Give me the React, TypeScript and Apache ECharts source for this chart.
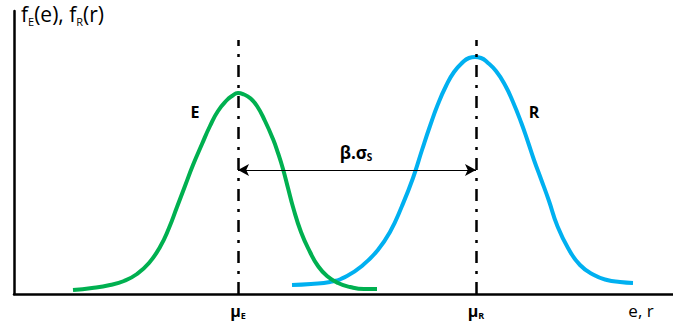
import React, { useEffect, useRef } from "react";
import * as echarts from "echarts";

// Curve E (green)
const eX = [59, 78, 96, 110, 123, 135, 146, 155, 163, 171, 179, 188, 196, 204, 213, 218, 224, 230, 236, 243, 251, 259, 264, 269, 274, 279, 287, 296, 304, 313, 324, 336, 350, 363];
const eY = [4, 6, 9, 13, 20, 31, 47, 66, 87, 108, 129, 150, 168, 183, 194, 198, 201, 199.5, 196, 188, 173, 155, 141, 125, 106, 87, 62, 42, 28, 18, 11, 7, 5, 5];
// Curve R (blue)
const rX = [278, 297, 316, 333, 349, 363, 376, 388, 399, 408, 416, 424, 432, 440, 449, 455, 461, 467, 473, 482, 491, 499, 507, 514, 520, 527, 535, 543, 554, 566, 580, 593, 606, 619];
const rY = [9, 10, 12, 18, 29, 43, 62, 88, 116, 144, 168, 190, 208, 222, 232, 236, 237, 236, 232, 223, 209, 192, 172, 152, 134, 115, 93, 69, 46, 29, 19, 14, 12, 11];

const meanValues = [224, 462];
const meanSubs = ["E", "R"];
const meanLineTop = 254;
const arrowLevel = 124;
const curveNames = ["E", "R"];
const xAxisTitle = "e, r";
const yTitleParts = ["f", "E", "(e), f", "R", "(r)"];
const gapLabel = ["β.σ", "S"];

const FONT = "'Open Sans', sans-serif";

export default function App() {
  const ref = useRef<HTMLDivElement>(null);
  useEffect(() => {
    const chart = echarts.init(ref.current!, null, { renderer: "svg" });
    const eData = eX.map((x, i) => [x, eY[i]]);
    const rData = rX.map((x, i) => [x, rY[i]]);
    const dashStyle = { color: "#000", width: 2.5, type: [12, 8, 3, 8] as any };
    chart.setOption({
      animation: false,
      grid: { left: 14, right: 0, top: 11, bottom: 29 },
      xAxis: {
        type: "value",
        min: 0,
        max: 659,
        axisLine: { show: true, onZero: false, lineStyle: { color: "#000", width: 2.5 } },
        axisTick: { show: false },
        splitLine: { show: false },
        axisLabel: {
          customValues: meanValues,
          margin: 8,
          formatter: (v: number) => {
            const i = meanValues.indexOf(v);
            return i < 0 ? "" : `{m|μ}{s|${meanSubs[i]}}`;
          },
          rich: {
            m: { fontFamily: FONT, fontSize: 16, fontWeight: "bold", color: "#000", lineHeight: 18 },
            s: { fontFamily: FONT, fontSize: 9, fontWeight: "bold", color: "#000", lineHeight: 13, verticalAlign: "bottom" },
          },
        },
      },
      yAxis: {
        type: "value",
        min: 0,
        max: 283,
        axisLine: { show: true, onZero: false, lineStyle: { color: "#000", width: 2.5 } },
        axisTick: { show: false },
        splitLine: { show: false },
        axisLabel: { show: false },
      },
      series: [
        {
          type: "line",
          name: curveNames[0],
          data: eData,
          smooth: 0.5,
          showSymbol: false,
          lineStyle: { color: "#00B050", width: 4 },
          z: 3,
          markLine: {
            silent: true,
            symbol: "none",
            label: { show: false },
            lineStyle: dashStyle,
            data: [
              [
                { coord: [meanValues[0], 0] },
                { coord: [meanValues[0], meanLineTop] },
              ],
              [
                { coord: [meanValues[1], 0] },
                { coord: [meanValues[1], meanLineTop] },
              ],
            ],
          },
        },
        {
          type: "line",
          name: curveNames[1],
          data: rData,
          smooth: 0.5,
          showSymbol: false,
          lineStyle: { color: "#00B0F0", width: 4 },
          z: 2,
          markLine: {
            silent: true,
            symbol: ["arrow", "arrow"],
            symbolSize: [9, 11],
            label: { show: false },
            lineStyle: { color: "#000", width: 1, type: "solid" },
            data: [
              [
                { coord: [meanValues[0], arrowLevel] },
                { coord: [meanValues[1], arrowLevel] },
              ],
            ],
          },
        },
      ],
      graphic: [
        {
          type: "text",
          left: 21,
          top: 3,
          style: {
            text: `{n|${yTitleParts[0]}}{s|${yTitleParts[1]}}{n|${yTitleParts[2]}}{s|${yTitleParts[3]}}{n|${yTitleParts[4]}}`,
            rich: {
              n: { fontFamily: FONT, fontSize: 21, fill: "#000", lineHeight: 27 },
              s: { fontFamily: FONT, fontSize: 11, fill: "#000", lineHeight: 18, verticalAlign: "bottom" },
            },
          },
        },
        {
          type: "text",
          x: 195,
          y: 112,
          style: { text: curveNames[0], fontFamily: FONT, fontSize: 16, fontWeight: "bold", fill: "#000", align: "center", verticalAlign: "middle" },
        },
        {
          type: "text",
          x: 534,
          y: 112,
          style: { text: curveNames[1], fontFamily: FONT, fontSize: 16, fontWeight: "bold", fill: "#000", align: "center", verticalAlign: "middle" },
        },
        {
          type: "text",
          x: 356,
          y: 152,
          style: {
            text: `{b|${gapLabel[0]}}{s|${gapLabel[1]}}`,
            align: "center",
            verticalAlign: "middle",
            rich: {
              b: { fontFamily: FONT, fontSize: 17, fontWeight: "bold", fill: "#000", lineHeight: 20 },
              s: { fontFamily: FONT, fontSize: 10, fontWeight: "bold", fill: "#000", lineHeight: 14, verticalAlign: "bottom" },
            },
          },
        },
        {
          type: "text",
          x: 641,
          y: 310,
          style: { text: xAxisTitle, fontFamily: FONT, fontSize: 17, fill: "#000", align: "center", verticalAlign: "middle" },
        },
      ],
    });
    return () => chart.dispose();
  }, []);
  return (
    <div
      ref={ref}
      style={{ position: "absolute", left: 0, top: 0, width: 673, height: 323, background: "#fff" }}
    />
  );
}
